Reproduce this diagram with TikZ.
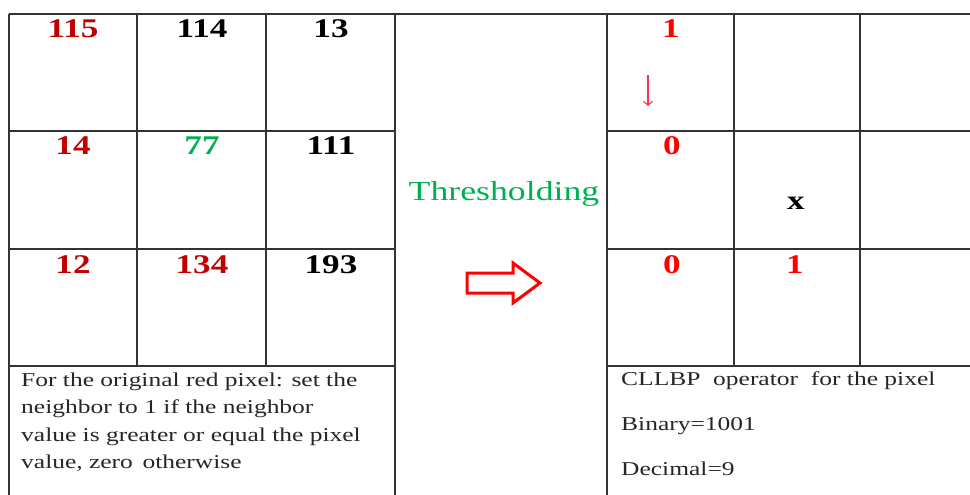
\documentclass[tikz,border=0pt]{standalone}
\usepackage{fontspec}
\setmainfont{Liberation Serif}[FakeStretch=1.3]
\usetikzlibrary{arrows.meta}
\definecolor{dred}{HTML}{C00000}
\definecolor{bred}{HTML}{FF0000}
\definecolor{grn}{HTML}{00B050}
\definecolor{gridc}{HTML}{333333}
\definecolor{pinkred}{RGB}{255,50,80}
\begin{document}
\begin{tikzpicture}[x=1pt,y=-1pt,
  gridline/.style={draw=gridc,line width=1.6pt},
  num/.style={anchor=base,font=\fontsize{27}{27}\selectfont\bfseries,inner sep=0pt},
  note/.style={anchor=base west,font=\fontsize{19.6}{27}\selectfont,inner sep=0pt,text=black!85}
]
\useasboundingbox (0,0) rectangle (970,495);
% grid lines
\draw[gridline] (9,14) -- (970,14);
\foreach \y in {131,249,366} {
  \draw[gridline] (9,\y) -- (395,\y);
  \draw[gridline] (607,\y) -- (970,\y);
}
\foreach \x in {9,395,607} \draw[gridline] (\x,14) -- (\x,495);
\foreach \x in {137,266,734,860} \draw[gridline] (\x,14) -- (\x,366);
% left table
\node[num,text=dred] (a11) at (73,38) {115};
\node[num] (a12) at (202,38) {114};
\node[num] (a13) at (331,38) {13};
\node[num,text=dred] (a21) at (73,154) {14};
\node[num,text=grn] (a22) at (202,154) {77};
\node[num] (a23) at (331,154) {111};
\node[num,text=dred] (a31) at (73,273) {12};
\node[num,text=dred] (a32) at (202,273) {134};
\node[num] (a33) at (331,273) {193};
\node[note] (n1) at (21,386) {For the original red pixel: set the};
\node[note] (n2) at (21,413) {neighbor to 1 if the neighbor};
\node[note] (n3) at (21,441) {value is greater or equal the pixel};
\node[note] (n4) at (21,468) {value, zero\, otherwise};
% middle
\node[anchor=base,inner sep=0pt,text=grn,font=\fontsize{27.5}{27.5}\selectfont] (thr) at (504,200) {Thresholding};
\draw[bred,line width=3pt,fill=white,line join=miter]
  (467,273) -- (513,273) -- (513,263) -- (540,283) -- (513,303) -- (513,293) -- (467,293) -- cycle;
% right table
\node[num,text=bred] (b11) at (671,38) {1};
\node[num,text=bred] (b21) at (672,154) {0};
\node[num] (bx) at (796,209) {x};
\node[num,text=bred] (b31) at (672,273) {0};
\node[num,text=bred] (b32) at (795,273) {1};
\coordinate (ds) at (648,75);
\coordinate (de) at (648,106);
\draw[pinkred,line width=1.1pt,-{Straight Barb[length=4pt,width=9pt]}] (ds) -- (de);
\node[note] (c1) at (621,385) {CLLBP\ \ operator\ \ for the pixel};
\node[note] (c2) at (621,430) {Binary=1001};
\node[note] (c3) at (621,475) {Decimal=9};
\end{tikzpicture}
\end{document}
